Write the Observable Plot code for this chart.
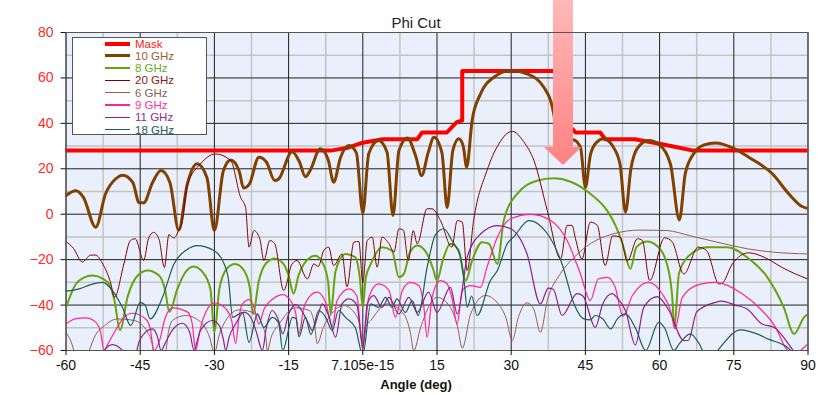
<!DOCTYPE html>
<html><head><meta charset="utf-8">
<script src="https://cdn.jsdelivr.net/npm/d3@7"></script>
<script src="https://cdn.jsdelivr.net/npm/@observablehq/plot@0.6"></script>
<style>
body{margin:0;background:#fff;font-family:"Liberation Sans",Arial,sans-serif;}
#wrap{position:relative;width:825px;height:395px;}
#legend{position:absolute;left:72px;top:37px;width:135px;height:98px;background:#fff;border:1px solid #555;box-sizing:border-box;}
#legend .sw{position:absolute;left:32px;width:25px;}
#legend .lb{position:absolute;left:62px;font-size:11.5px;line-height:12px;white-space:nowrap;}
</style></head>
<body><div id="wrap"><div id="chart"></div><div id="legend"></div></div>
<script>
const seriesNames = ["Mask","10 GHz","8 GHz","20 GHz","6 GHz","9 GHz","11 GHz","18 GHz"];
const seriesColors = ["#ff0000","#7f4000","#66a30e","#800000","#985a55","#ff2496","#8a1e8e","#1a5c58"];
const legendTextColors = ["#ff2020","#9a6030","#6aaa20","#8b1a1a","#8e5a5a","#ff3399","#8b2a9b","#205a5a"];
const xTicks = [-60,-45,-30,-15,0,15,30,45,60,75,90];
const xTickLabels = ["-60","-45","-30","-15","7.105e-15","15","30","45","60","75","90"];
const yTicks = [-60,-40,-20,0,20,40,60,80];

const mask = [[-60,28],[-6.5,28],[-3,29.3],[0,31.5],[4,33],[11,33],[12,36],[17,36],[19,40.5],[20.1,41.3],[20.1,63],[40,63],[40,41.3],[41,40.5],[43,36],[48,36],[49,33],[55,33],[60,31],[63.5,29.5],[66.8,28],[90,28]];

const ghz10 = [[-60,8.2],[-58,10.3],[-56.5,7.5],[-54,-5.7],[-52,9],[-50,15.5],[-48.5,17.2],[-46.5,14],[-45.2,5],[-44.3,5],[-42.5,14],[-40.8,19.2],[-39,14],[-37.2,-7],[-35.5,13],[-33.5,22.2],[-31.5,16],[-30,-7.2],[-28.2,19],[-26.7,23.9],[-25,19],[-24.1,11.5],[-23,13],[-21,25.1],[-19.5,23],[-17.8,14.8],[-17,15.5],[-14.3,27.5],[-12.8,23],[-11.6,16.5],[-10.6,19.5],[-8.6,28.8],[-7,24],[-5.9,14.1],[-4.5,25],[-2.8,30.2],[-1.3,27],[0,0.5],[1.2,26.6],[3.2,32.4],[4.9,27.3],[6.1,-0.6],[7.3,28],[9,33.6],[10.7,25.5],[11.9,17],[13.2,27],[14.4,33.9],[16,27],[17.05,3],[18.2,28],[19.4,33.2],[20.3,30],[21,20.7],[22.1,41.3],[23.8,53],[26.5,60.3],[30,63.3],[33.2,61.8],[36.6,55.9],[38.6,44.2],[39.5,28],[40.2,26],[41,30],[42.5,32.8],[44,29.5],[45,11.9],[46,26],[47.2,31.5],[48.7,33.2],[50.5,30],[52,22],[53.1,0.9],[54.2,20],[55.5,29],[57.8,32.4],[60,30.5],[62.2,22],[64,-2.5],[65.2,18],[67,27],[69,30.5],[71.3,31.4],[75,29],[78,25.1],[82.8,17.8],[86.1,9],[88.8,3.4],[90,2.5]];

const ghz8 = [[-60,-41],[-58,-30.7],[-56.5,-28],[-54.6,-27],[-52.5,-28.5],[-51.3,-30.7],[-50.2,-38],[-49.1,-51],[-47.5,-36],[-45.5,-27],[-43.5,-24.8],[-41.2,-27],[-40,-33],[-39.1,-43],[-37.5,-33],[-36,-26],[-34.2,-23],[-32.2,-26],[-30.8,-33],[-30,-52],[-29,-33],[-27.5,-24],[-25.8,-21.9],[-24,-24.8],[-22.8,-33],[-22.2,-44],[-21,-29.2],[-19.5,-21.5],[-17.8,-19.5],[-16,-22],[-15,-27],[-14,-35],[-13,-27],[-11.9,-21.9],[-9.6,-18.3],[-8,-22],[-7,-30],[-6.5,-43.9],[-5.5,-25],[-3.5,-17.5],[-1.5,-19],[-0.6,-28],[0,-41],[0.6,-28],[1.6,-22],[3.9,-14.5],[5.9,-16],[7.3,-27.8],[8.3,-26.3],[9.5,-17],[11,-13.8],[13,-17.5],[14.2,-24],[15,-29.2],[16.2,-20],[17.7,-13],[19.4,-16],[20.8,-29.2],[22.1,-20.4],[24.1,-12.3],[25.5,-13],[27.2,-21.9],[28.5,-2.8],[31.2,9],[35.2,14.7],[38.6,15.8],[42,14.3],[46,9],[49.4,1.6],[51.1,-5],[52.5,-13],[54.1,-24],[55.3,-14.5],[57.5,-12],[59.5,-14],[61.5,-22],[62.5,-35],[63,-49.8],[63.9,-26.3],[65.6,-19],[69.6,-14.5],[73.7,-14.5],[77.7,-19],[81.8,-27.8],[85.1,-41],[87.2,-52.7],[89.2,-45.4],[90,-44]];

const ghz20 = [[-60,-12],[-58.5,-15],[-56.7,-21],[-55,-18],[-54,-18],[-52.7,-21.4],[-51,-30],[-50.2,-36.5],[-48.3,-21.9],[-47,-11.6],[-46,-10.8],[-44.3,-20.4],[-43.3,-10.5],[-42.3,-8],[-41.2,-11],[-40.1,-23.5],[-39.2,-9],[-38.2,-10.5],[-37.2,-7],[-36.5,-3],[-35.5,12.6],[-32.8,22.2],[-29.8,26.5],[-26.7,23.6],[-24.7,7.4],[-23.7,3],[-23,-14.5],[-22,-7.2],[-20.8,-11],[-20,-20.4],[-18.8,-11.6],[-17.8,-13],[-16,-33.6],[-14.3,-21.9],[-13.3,-20.4],[-11.2,-28.5],[-9.9,-21.9],[-9,-23],[-7.9,-16],[-6.9,-14.5],[-5.9,-22.6],[-4.2,-17.5],[-3.2,-32],[-1.8,-12.3],[-0.8,-12],[0,-30],[0.9,-11.6],[1.9,-10.1],[2.9,-23.3],[3.9,-10.1],[5.3,-13],[6.3,-16.7],[7.3,-6.4],[8.2,-7],[9.2,-20.4],[10.2,-7.2],[11,-13],[13,2.4],[14,2.4],[15.7,-2.8],[18,-14.5],[19.1,-2.8],[20.1,-3.5],[21.1,-24.8],[22.4,-2.8],[25.1,19.2],[27.5,31],[30.2,36.5],[32.5,32],[34.6,23.6],[37.3,1.6],[40,-19.7],[41.3,-4.9],[42.3,-4.9],[43,-10.8],[44.3,-19.7],[46,-3.5],[47.4,-4.9],[49,-22.6],[50.5,-9.5],[52,-10],[53.5,-20.6],[55.5,-10.8],[56.5,-11.5],[58,-29.2],[61,-10.4],[62.5,-12],[64.9,-26.3],[67.8,-14.5],[69.5,-16],[72,-30.7],[72.6,-30.5],[74.7,-21.9],[78,-17],[81.4,-19.2],[84.8,-23.5],[90,-28.6]];

const ghz6 = [[-60,-52],[-59,-56],[-58,-62],[-56,-64],[-55.3,-60],[-54,-53],[-52.6,-49.8],[-49.6,-46.1],[-46.2,-46.8],[-43.5,-52],[-42.6,-57],[-42.2,-62],[-40,-62],[-39.3,-52],[-38.5,-46.8],[-35.8,-44.6],[-32.4,-48.3],[-31,-54],[-30,-61],[-29,-53],[-27.7,-46.8],[-25,-42.1],[-21.6,-43.9],[-20.3,-49],[-19.6,-54.2],[-19.3,-60],[-18.5,-54],[-16.9,-48.3],[-13.6,-41.2],[-10.8,-42.4],[-9.8,-48],[-9.2,-57],[-8,-50],[-6,-43],[-3.8,-40.2],[-1.5,-44],[-0.5,-50],[0,-60],[0.5,-50],[1.6,-46.8],[4.9,-39.5],[8.3,-43.9],[9.6,-52],[10.3,-60],[11.7,-49.8],[15,-36.6],[17.7,-41],[19.2,-50],[20.1,-59],[21.8,-43.9],[24.8,-35.8],[27.2,-39],[29,-46],[30.2,-55.6],[31.5,-45],[33.2,-39],[34.6,-42],[35.9,-52],[37.3,-38],[40,-26],[42.7,-19],[46,-13],[50.7,-8.6],[56,-7],[61.5,-7.2],[66,-9.4],[71.6,-12.3],[77.7,-15.2],[83,-16.7],[90,-17.5]];

const ghz9 = [[-60,-48.3],[-58,-46],[-56,-45.6],[-54,-47.5],[-53,-52],[-52.3,-60],[-51.5,-57],[-50,-51.2],[-48.5,-46],[-46.6,-43.6],[-43.9,-46.1],[-43,-50],[-42.2,-60],[-41,-55],[-40,-46],[-38.5,-41.2],[-35.4,-43.1],[-34.5,-48],[-33.8,-60],[-33,-52],[-32.4,-46.8],[-30,-39],[-27.7,-41.6],[-26.5,-47],[-25.7,-57],[-25,-45],[-24.3,-39.5],[-23,-37.6],[-22,-41],[-21,-48.3],[-20,-42],[-18,-37],[-16.2,-35.4],[-14.6,-38],[-13.6,-43.1],[-12.9,-52.7],[-12,-42],[-10.9,-36.6],[-9.2,-34.3],[-7.5,-38.8],[-6.2,-49.8],[-5.2,-38],[-2.8,-32.9],[-1.2,-36],[0,-58.6],[1.2,-36.6],[3.2,-30.7],[5.3,-33.6],[6.6,-45.4],[8,-33.6],[9.6,-30],[11.3,-31.4],[12.3,-40],[13,-54.2],[14,-36.6],[15.7,-29.2],[17,-30.5],[18,-36.6],[19.1,-48.3],[20.1,-33.6],[21.8,-31.4],[23.8,-32.2],[25.1,-23.4],[27.2,-10.1],[29.9,-2],[34,-0.1],[38,-2.8],[41.3,-11.6],[44,-26.3],[46,-38],[47.6,-28.5],[49.4,-27.8],[51,-32],[52.6,-45],[54.5,-35.8],[57.8,-30],[60.5,-35],[62.3,-43],[63.1,-50.5],[64.6,-36.6],[67.9,-31],[71.3,-30],[76.7,-35],[80.7,-42.4],[83.5,-50],[85.4,-58.6],[87,-62],[88.5,-60],[90,-57]];

const ghz11 = [[-60,-66],[-53,-64],[-52.3,-60],[-50.6,-57.4],[-48.6,-60],[-48,-64],[-46,-62],[-45.2,-56],[-44.5,-53.4],[-42.5,-50.5],[-41.5,-54],[-40.8,-60],[-40,-57],[-38.5,-51],[-36.5,-48],[-35,-52],[-34.1,-60],[-33.5,-56],[-32.8,-51.2],[-30.4,-46.8],[-29,-49],[-28.2,-55],[-27.7,-60],[-27,-54],[-25.7,-48.3],[-24,-43.1],[-22.5,-46],[-21.5,-52],[-20.3,-60],[-19.5,-50],[-18.3,-42.4],[-17,-47],[-16.2,-52.7],[-15,-44],[-13.6,-39.8],[-12.5,-42],[-11,-48],[-10.2,-51.2],[-9,-44],[-8.2,-39.5],[-6.9,-44.6],[-5.5,-54.2],[-4.2,-39.5],[-2.8,-37.3],[-1.2,-40],[0,-58.6],[0.9,-39.5],[2.2,-35.8],[3.9,-41],[5.3,-36.6],[7.3,-43.9],[9.3,-36.6],[11,-43.2],[13.3,-34.3],[15,-43.2],[17.7,-32.2],[19.1,-43.9],[21.1,-19],[23.8,-8.7],[27.2,-5],[29.9,-6.4],[33.2,-17.5],[35.9,-39.5],[37.5,-32.5],[38.5,-33],[40.3,-44.6],[43.3,-35],[44.5,-36],[47,-49.8],[48.5,-39.5],[50.4,-35],[51.5,-37],[53.1,-42.4],[55.1,-57.5],[56.8,-41],[59.5,-36.3],[61.9,-42.4],[64.9,-55.6],[65.8,-55.6],[67.5,-43],[71.3,-38.8],[72.4,-38.3],[75.3,-40],[77.7,-41.7],[80.7,-48.3],[83.1,-49.8],[87,-60],[88,-63]];

const ghz18 = [[-60,-33.9],[-57.3,-32.9],[-55,-31],[-52.6,-30],[-50.6,-33.6],[-48.6,-41],[-46.9,-49],[-45,-38.8],[-44,-40],[-43,-46.1],[-40.5,-36.6],[-38.2,-22],[-35.5,-15.5],[-33.5,-13.8],[-30.1,-16],[-28,-22],[-27.2,-28],[-26.3,-45.4],[-24.3,-43.2],[-23,-56.4],[-21.3,-43.9],[-20,-49.8],[-18.3,-45.4],[-17,-48],[-16.2,-60],[-14.2,-45.4],[-13.5,-46],[-12.9,-54],[-11.6,-45.4],[-10.5,-53],[-8.9,-42.4],[-7.5,-45.4],[-6.2,-51.2],[-4.9,-42.4],[-3.5,-45.4],[-1.5,-50],[0,-62],[1.6,-39.5],[3.2,-41],[4.6,-36.6],[5.9,-41],[6.9,-37.3],[8.6,-43.2],[10,-38],[11.2,-44.6],[13,-23.4],[14.7,-9],[16.4,-6.4],[18,-11.6],[19.7,-18.6],[20.5,-30],[21.1,-41],[22,-36],[23.1,-44.6],[25.8,-29.2],[27.2,-24.8],[29.2,-13],[30.5,-10],[33.6,-2.8],[37.3,-8.5],[40.3,-22],[42.7,-39.5],[44.7,-46.1],[46,-46.5],[47,-44.6],[48.5,-46],[50.1,-50.5],[51.5,-46],[53.1,-43.9],[55.1,-50],[57.2,-60],[59.8,-47.6],[61,-50],[62.9,-60],[64,-57],[66.2,-52.7],[68,-57],[69.3,-62],[71,-62],[72,-59.3],[76.4,-50.9],[79.7,-52.7],[82,-55],[85.8,-58.6],[87.5,-62],[90,-64]];

const seriesData = [mask, ghz10, ghz8, ghz20, ghz6, ghz9, ghz11, ghz18];
const seriesWidths = [4, 3, 2, 1, 1, 1.2, 1.2, 1.2];

// arrow annotation (data units)
const arrowShaft = {x1: 38.55, x2: 42.59, y1: 29.36, y2: 94.1};
const arrowHead = [{x: 36.72, y1: 29.36, y2: 29.36}, {x: 40.57, y1: 21.44, y2: 29.36}, {x: 44.3, y1: 29.36, y2: 29.36}];

const xMinor = xTicks.slice(0, -1).map(d => d + 7.5);
const yMinor = yTicks.slice(0, -1).map(d => d + 10);

const lineMarks = seriesData.map((s, i) => Plot.line(s, {
  x: d => d[0], y: d => d[1], stroke: seriesColors[i], strokeWidth: seriesWidths[i],
  curve: i === 0 ? "linear" : "monotone-x", clip: true, strokeLinejoin: "round"
}));

const chart = Plot.plot({
  width: 825, height: 395,
  marginLeft: 65.5, marginRight: 17.5, marginTop: 32, marginBottom: 45,
  style: {fontFamily: '"Liberation Sans", Arial, sans-serif', background: "#fff"},
  x: {domain: [-60, 90]},
  y: {domain: [-60, 80]},
  marks: [
    Plot.frame({fill: "#eaf0fb", stroke: null}),
    Plot.ruleX(xMinor, {stroke: "#c3c3c3", strokeWidth: 1.5}),
    Plot.ruleY(yMinor, {stroke: "#c3c3c3", strokeWidth: 1.5}),
    Plot.ruleX(xTicks, {stroke: "#1e1e1e", strokeWidth: 1}),
    Plot.ruleY(yTicks, {stroke: "#1e1e1e", strokeWidth: 1}),
    ...lineMarks,
    Plot.rect([arrowShaft], {x1: "x1", x2: "x2", y1: "y1", y2: "y2", fill: "url(#arrowGrad)"}),
    Plot.areaY(arrowHead, {x: "x", y1: "y1", y2: "y2", fill: "url(#arrowGrad)", curve: "linear"}),
    Plot.frame({stroke: "#555"}),
    Plot.axisX(xTicks, {tickSize: 5, tickPadding: 5, fontSize: 14, label: null, tickFormat: d => xTickLabels[xTicks.indexOf(d)], color: "#111"}),
    Plot.axisY(yTicks, {tickSize: 5, tickFormat: () => "", label: null, color: "#111"}),
    Plot.axisY(yTicks, {tickSize: 0, tickPadding: 12.5, fontSize: 14, label: null, color: "#ff2a2a"}),
    Plot.text(["Phi Cut"], {frameAnchor: "top", dx: -21, dy: -15, fontSize: 15, fill: "#222"}),
    Plot.text(["Angle (deg)"], {frameAnchor: "bottom", dx: -21, dy: 38, fontSize: 13, fontWeight: "bold", fill: "#111"})
  ]
});
chart.insertAdjacentHTML("afterbegin",
  '<defs><linearGradient id="arrowGrad" gradientUnits="userSpaceOnUse" x1="0" y1="0" x2="0" y2="165">' +
  '<stop offset="0" stop-color="#ffb8b8"/><stop offset="1" stop-color="#ff8282"/></linearGradient></defs>');
document.getElementById("chart").appendChild(chart);

const legend = document.getElementById("legend");
seriesNames.forEach((name, i) => {
  const cy = 5.5 + i * 12.3;
  const sw = document.createElement("div");
  sw.className = "sw";
  const h = seriesWidths[i] < 1.5 ? 1.3 : seriesWidths[i];
  sw.style.top = (cy - h / 2) + "px";
  sw.style.height = h + "px";
  sw.style.background = seriesColors[i];
  legend.appendChild(sw);
  const lb = document.createElement("div");
  lb.className = "lb";
  lb.style.top = (cy - 6) + "px";
  lb.style.color = legendTextColors[i];
  lb.textContent = name;
  legend.appendChild(lb);
});
</script>
</body></html>
